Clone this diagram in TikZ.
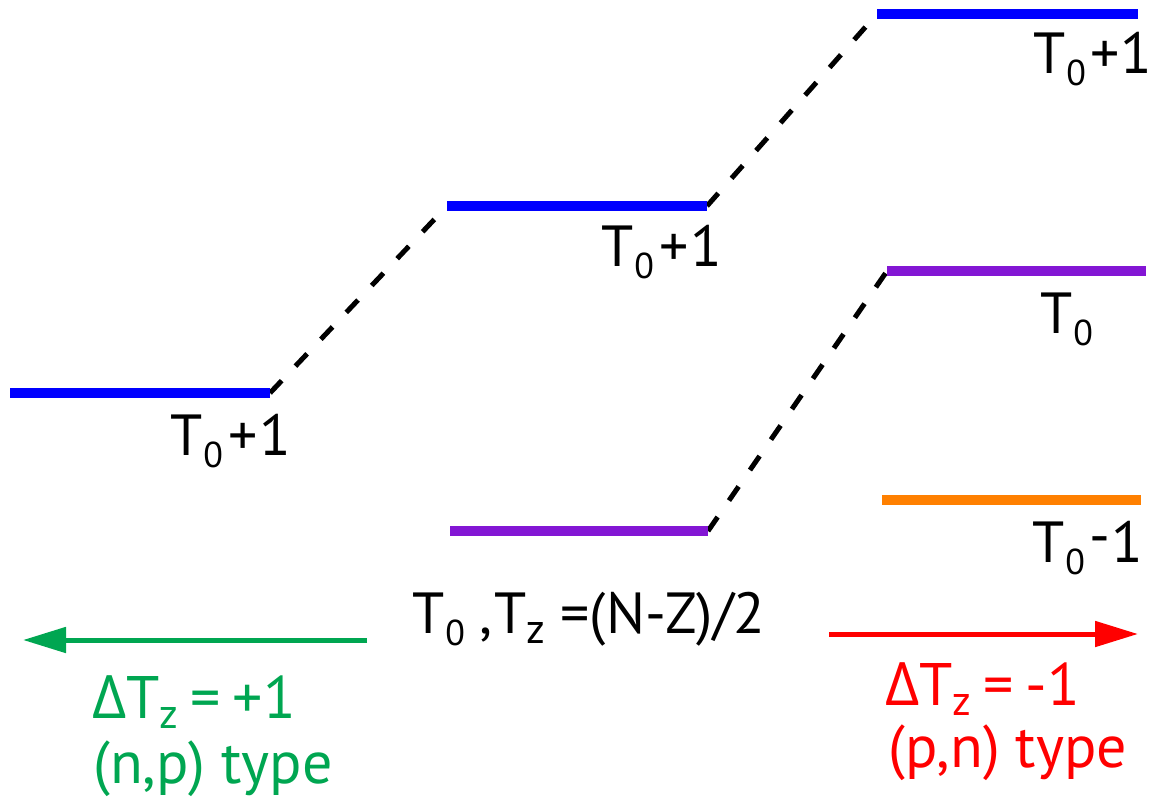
\documentclass[tikz,border=0pt]{standalone}
\usepackage{fontspec}
\setmainfont{PT Sans}
\newfontfamily\grk{Open Sans}
\usetikzlibrary{arrows.meta}
\definecolor{lvlblue}{RGB}{0,0,255}
\definecolor{lvlpurple}{RGB}{131,22,212}
\definecolor{lvlorange}{RGB}{255,128,0}
\definecolor{npgreen}{RGB}{0,166,81}
\definecolor{pnred}{RGB}{255,0,0}
\newcommand\bigsub[1]{\kern1pt\lower12pt\hbox{\fontsize{36}{36}\selectfont #1}}
\newcommand\zsub[2]{\lower#1\hbox{\fontsize{#2}{#2}\selectfont z}}
\begin{document}
\begin{tikzpicture}[x=1pt,y=-1pt,
  level/.style={line width=10pt},
  dashconn/.style={line width=5pt, dash pattern=on 17pt off 20pt},
  lab/.style={anchor=base west, inner sep=0pt, font=\fontsize{58}{60}\selectfont},
  small/.style={anchor=base west, inner sep=0pt, font=\fontsize{60}{62}\selectfont},
  trans/.style={line width=5pt, -{Triangle[length=43pt,width=25pt]}}]
\useasboundingbox (0,0) rectangle (1160,807);
% level end points
\coordinate (a1) at (10,393);  \coordinate (a2) at (270,393);
\coordinate (b1) at (447,206); \coordinate (b2) at (707,206);
\coordinate (c1) at (877,14);  \coordinate (c2) at (1138,14);
\coordinate (d1) at (450,531); \coordinate (d2) at (708,531);
\coordinate (e1) at (887,271); \coordinate (e2) at (1146,271);
\coordinate (f1) at (882,500); \coordinate (f2) at (1141,500);
% dashed connectors
\draw[dashconn] (a2) -- (b1);
\draw[dashconn] (b2) -- (c1);
\draw[dashconn] (d2) -- (e1);
% levels
\draw[level, lvlblue] (a1) -- (a2);
\draw[level, lvlblue] (b1) -- (b2);
\draw[level, lvlblue] (c1) -- (c2);
\draw[level, lvlpurple] (d1) -- (d2);
\draw[level, lvlpurple] (e1) -- (e2);
\draw[level, lvlorange] (f1) -- (f2);
% labels
\node[lab] (la) at (170,455) {T\bigsub{0}\kern5pt+\kern2pt1};
\node[lab] (lb) at (601,266) {T\bigsub{0}\kern5pt+\kern2pt1};
\node[lab] (lc) at (1033,73) {T\bigsub{0}\kern4pt+\kern1pt1};
\node[lab] (le) at (1040,333) {T\bigsub{0}};
\node[lab] (lf) at (1032,562) {T\bigsub{0}\kern4pt\raisebox{7pt}{-}\kern2pt1};
\node[lab] (lg) at (412,633) {T\bigsub{0}\kern14pt,\kern2pt T\zsub{10pt}{42} =(N-Z)/2};
% arrows
\coordinate (gt) at (367,640); \coordinate (gh) at (23,640);
\coordinate (rt) at (829,634); \coordinate (rh) at (1138,634);
\draw[trans, npgreen] (gt) -- (gh);
\draw[trans, pnred] (rt) -- (rh);
\node[small, text=npgreen] (g1) at (92,718) {{\grk Δ}T\zsub{10pt}{42}\kern12pt=\kern12pt+1};
\node[small, text=npgreen] (g2) at (93,783) {(n,p) type};
\node[small, text=pnred] (r1) at (885,705) {{\grk Δ}T\zsub{10pt}{42}\kern12pt=\kern12pt-1};
\node[small, text=pnred] (r2) at (888,767) {(p,n) type};
\end{tikzpicture}
\end{document}
